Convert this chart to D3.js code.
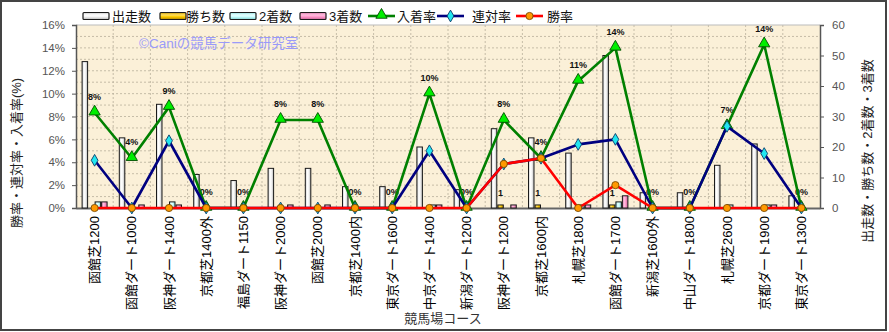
<!DOCTYPE html>
<html><head><meta charset="utf-8">
<script src="https://cdn.jsdelivr.net/npm/d3@7"></script>
<style>
body{margin:0;background:#fff;}
svg{display:block;font-family:"Liberation Sans","Noto Sans CJK JP",sans-serif;}
</style></head>
<body><svg id="c" width="889" height="332"></svg>
<script>
const categories = ["函館芝1200","函館ダート1000","阪神ダート1400","京都芝1400外","福島ダート1150","阪神ダート2000","函館芝2000","京都芝1400内","東京ダート1600","中京ダート1400","新潟ダート1200","阪神ダート1200","京都芝1600内","札幌芝1800","函館ダート1700","新潟芝1600外","中山ダート1800","札幌芝2600","京都ダート1900","東京ダート1300"];
const starts  = [48,23,34,11,9,13,13,7,7,20,6,26,23,18,50,5,5,14,21,4];
const wins    = [0,0,0,0,0,0,0,0,0,0,0,1,1,0,1,0,0,0,0,0];
const seconds = [2,0,2,0,0,0,0,0,0,1,0,0,0,1,2,0,0,1,1,0];
const thirds  = [2,1,1,0,0,1,1,0,0,1,0,1,0,1,4,0,0,0,1,0];
const placeRate = [8.33,4.35,8.82,0,0,7.69,7.69,0,0,10,0,7.69,4.35,11.11,14,0,0,7.14,14.29,0];
const quinRate  = [4.17,0,5.88,0,0,0,0,0,0,5,0,3.85,4.35,5.56,6,0,0,7.14,4.76,0];
const winRate   = [0,0,0,0,0,0,0,0,0,0,0,3.85,4.35,0,2,0,0,0,0,0];
const leftTicks = [0,2,4,6,8,10,12,14,16];
const rightTicks = [0,10,20,30,40,50,60];
const barNames = ["出走数","勝ち数","2着数","3着数"];
const lineNames = ["入着率","連対率","勝率"];

const svg = d3.select("#c");
const L=76,R=820,T=25,B=208;
const x = d3.scaleBand().domain(categories).range([L,R]);
const yL = d3.scaleLinear().domain([0,16]).range([B,T]);
const yR = d3.scaleLinear().domain([0,60]).range([B,T]);
const sub = d3.scaleBand().domain(barNames).range([-13,13]);

const defs = svg.append("defs");
const grads = [
  ["g0",["#c8c8c8","#ffffff","#f4f4f4","#b8b8b8"]],
  ["g1",["#c99a00","#ffe066","#ffcc00","#b08400"]],
  ["g2",["#8fdede","#e8ffff","#ccffff","#7fcfcf"]],
  ["g3",["#d878a8","#ffc0e0","#ff99cc","#c86898"]]
];
grads.forEach(([id,c])=>{
  const g=defs.append("linearGradient").attr("id",id).attr("x1",0).attr("x2",1).attr("y1",0).attr("y2",0);
  [0,0.35,0.6,1].forEach((o,i)=>g.append("stop").attr("offset",o).attr("stop-color",c[i]));
  const g2=defs.append("linearGradient").attr("id",id+"v").attr("x1",0).attr("x2",0).attr("y1",0).attr("y2",1);
  [0,0.35,0.6,1].forEach((o,i)=>g2.append("stop").attr("offset",o).attr("stop-color",c[i]));
});

// outer frame
svg.append("rect").attr("x",1).attr("y",1).attr("width",885).attr("height",329)
  .attr("fill","#fff").attr("stroke","#444").attr("stroke-width",2);

// plot background
svg.append("rect").attr("x",L).attr("y",T).attr("width",R-L).attr("height",B-T).attr("fill","#fbf0d8");

// grid
const gridVals = d3.range(1,16);
svg.append("g").selectAll("line").data(gridVals).join("line")
  .attr("x1",L).attr("x2",R).attr("y1",d=>yL(d)).attr("y2",d=>yL(d))
  .attr("stroke","#b9b09c").attr("stroke-dasharray","2,2").attr("stroke-width",0.8);
svg.append("g").selectAll("line").data(categories.slice(1)).join("line")
  .attr("x1",d=>x(d)).attr("x2",d=>x(d)).attr("y1",T).attr("y2",B)
  .attr("stroke","#b9b09c").attr("stroke-dasharray","2,2").attr("stroke-width",0.8);
svg.append("line").attr("x1",L).attr("x2",R).attr("y1",T).attr("y2",T).attr("stroke","#bbb");

// watermark
svg.append("text").attr("x",139).attr("y",48).attr("font-size",13.5).attr("fill","#9a9af8")
  .text("©Caniの競馬データ研究室");

// axes
const axL = svg.append("g").attr("transform",`translate(${L},0)`)
  .call(d3.axisLeft(yL).tickValues(leftTicks).tickFormat(d=>d+"%").tickSize(4).tickPadding(7));
const axR = svg.append("g").attr("transform",`translate(${R},0)`)
  .call(d3.axisRight(yR).tickValues(rightTicks).tickSize(4).tickPadding(8));
[axL,axR].forEach(a=>{
  a.select(".domain").attr("stroke","#555").attr("stroke-width",1.5);
  a.selectAll(".tick line").attr("stroke","#555");
  a.selectAll("text").attr("font-size",11.5).attr("fill","#555")
   .attr("font-family","Liberation Sans, sans-serif");
});
const axB = svg.append("g").attr("transform",`translate(0,${B})`)
  .call(d3.axisBottom(x).tickSize(0).tickPadding(0));
axB.select(".domain").attr("stroke","#666").attr("stroke-width",2);
axB.selectAll(".tick text").attr("transform","rotate(-90)").attr("text-anchor","end")
  .attr("x",-8).attr("y",0).attr("dy","0.36em").attr("font-size",13).attr("fill","#000")
  .attr("font-family","Liberation Sans, Noto Sans CJK JP, sans-serif");

// data labels for 入着率 (behind bars)
const cx = d=>x(d)+x.bandwidth()/2;
svg.append("g").selectAll("text").data(categories).join("text")
  .attr("x",d=>cx(d)).attr("y",(d,i)=>yL(placeRate[i])-13)
  .attr("text-anchor","middle").attr("font-size",9).attr("font-weight","bold").attr("fill","#111")
  .text((d,i)=>Math.round(placeRate[i])+"%");
// labels for 勝ち数
svg.append("g").selectAll("text").data(categories.filter((d,i)=>wins[i]>0)).join("text")
  .attr("x",d=>cx(d)+sub("勝ち数")+sub.bandwidth()/2).attr("y",d=>yR(wins[categories.indexOf(d)])-9)
  .attr("text-anchor","middle").attr("font-size",9).attr("font-weight","bold").attr("fill","#111")
  .text(d=>wins[categories.indexOf(d)]);

// bars
const barData=[starts,wins,seconds,thirds];
barData.forEach((arr,k)=>{
  svg.append("g").selectAll("rect").data(categories).join("rect")
    .attr("x",d=>cx(d)+sub(barNames[k])+0.5).attr("width",sub.bandwidth()-1)
    .attr("y",(d,i)=>yR(arr[i])).attr("height",(d,i)=>B-yR(arr[i]))
    .attr("fill",`url(#g${k})`).attr("stroke","#1a1a1a").attr("stroke-width",1)
    .attr("display",(d,i)=>arr[i]>0?null:"none");
});

// lines
const tri = d3.symbol().type(d3.symbolTriangle).size(55);
const dia = d3.symbol().type(d3.symbolDiamond).size(40);
const lineSpecs=[
  {vals:placeRate,color:"#008000",mfill:"#00ee00",mstroke:"#004d00",sym:tri,dy:-1},
  {vals:quinRate,color:"#000080",mfill:"#22e6f0",mstroke:"#0a3a6a",sym:dia,dy:0},
  {vals:winRate,color:"#ff0000",mfill:"#ff9900",mstroke:"#7a4a00",sym:null,dy:0}
];
lineSpecs.forEach(s=>{
  const ln=d3.line().x((d,i)=>cx(categories[i])).y(d=>yL(d));
  svg.append("path").datum(s.vals).attr("d",ln).attr("fill","none")
    .attr("stroke",s.color).attr("stroke-width",2.6).attr("stroke-linejoin","round");
  const g=svg.append("g");
  if(s.sym){
    g.selectAll("path").data(s.vals).join("path")
      .attr("d",s.sym).attr("transform",(d,i)=>`translate(${cx(categories[i])},${yL(d)+s.dy})`)
      .attr("fill",s.mfill).attr("stroke",s.mstroke).attr("stroke-width",0.9);
  } else {
    g.selectAll("circle").data(s.vals).join("circle")
      .attr("cx",(d,i)=>cx(categories[i])).attr("cy",d=>yL(d)).attr("r",3.6)
      .attr("fill",s.mfill).attr("stroke",s.mstroke).attr("stroke-width",0.9);
  }
});

// axis titles
svg.append("text").attr("transform","translate(21,153) rotate(-90)").attr("text-anchor","middle")
  .attr("font-size",13).attr("fill","#222").text("勝率・連対率・入着率(%)");
svg.append("text").attr("transform","translate(872,151) rotate(-90)").attr("text-anchor","middle")
  .attr("font-size",13).attr("fill","#222").text("出走数・勝ち数・2着数・3着数");
svg.append("text").attr("x",443).attr("y",323).attr("text-anchor","middle")
  .attr("font-size",13).attr("fill","#333").text("競馬場コース");

// legend
const legBars=[{n:barNames[0],x:83,tx:112},{n:barNames[1],x:160,tx:186},{n:barNames[2],x:230,tx:259},{n:barNames[3],x:300,tx:329}];
const lg=svg.append("g");
legBars.forEach((b,k)=>{
  lg.append("rect").attr("x",b.x).attr("y",12.5).attr("width",26).attr("height",7)
    .attr("fill",`url(#g${k}v)`).attr("stroke","#1a1a1a").attr("stroke-width",1.2).attr("rx",1);
  lg.append("text").attr("x",b.tx).attr("y",21).attr("font-size",13).attr("fill","#111").text(b.n);
});
const legLines=[{x:368,tx:397},{x:437,tx:472},{x:516,tx:547}];
legLines.forEach((b,k)=>{
  const s=lineSpecs[k];
  lg.append("line").attr("x1",b.x).attr("x2",b.x+27).attr("y1",16).attr("y2",16)
    .attr("stroke",s.color).attr("stroke-width",2.6);
  if(s.sym) lg.append("path").attr("d",s.sym).attr("transform",`translate(${b.x+13.5},${16+s.dy})`)
    .attr("fill",s.mfill).attr("stroke",s.mstroke).attr("stroke-width",0.9);
  else lg.append("circle").attr("cx",b.x+13.5).attr("cy",16).attr("r",3.6)
    .attr("fill",s.mfill).attr("stroke",s.mstroke).attr("stroke-width",0.9);
  lg.append("text").attr("x",b.tx).attr("y",21).attr("font-size",13).attr("fill","#111").text(lineNames[k]);
});
</script></body></html>
